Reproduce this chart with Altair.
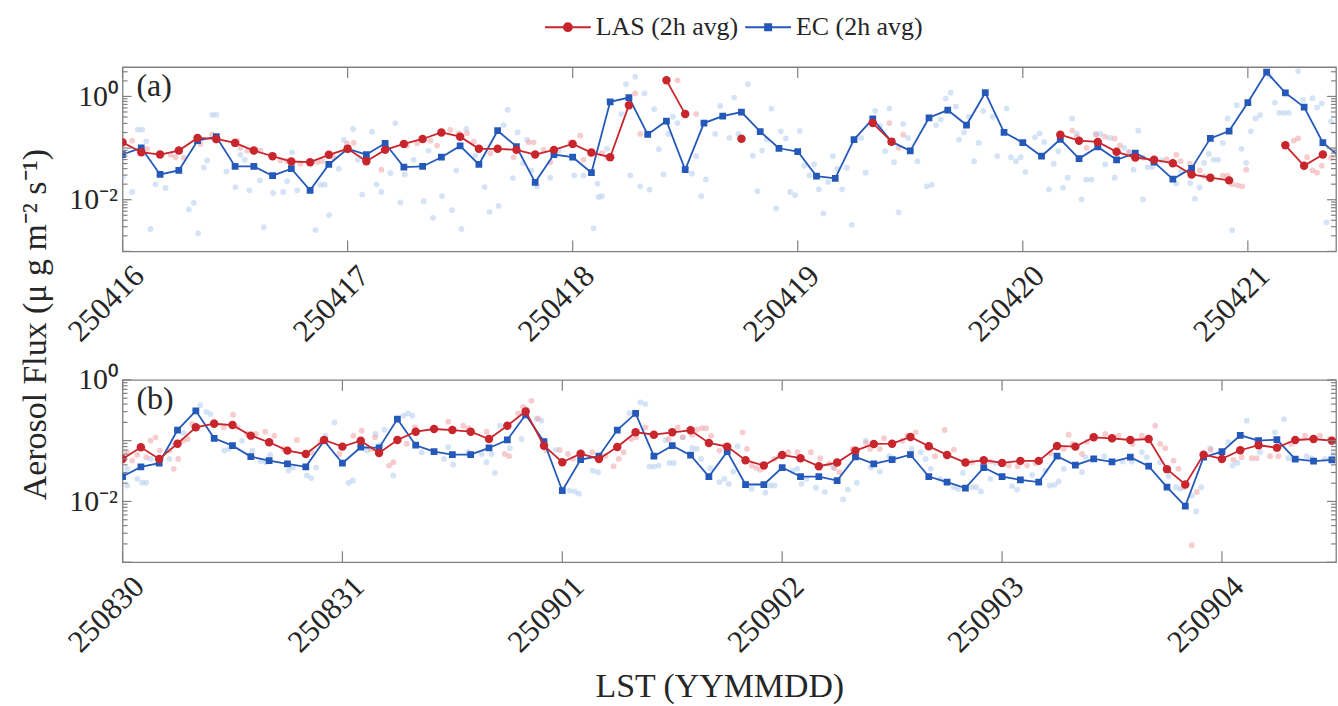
import altair as alt
import pandas as pd

FONT = "Liberation Serif"
INK = "#262626"
FRAME = "#808080"
RED = "#c8252c"
BLUE = "#2459b9"
PALE_RED = "#ee9aa0"
PALE_BLUE = "#a9c8ee"

SERIES = ["LAS (2h avg)", "EC (2h avg)"]
DAYS_A = ["250416", "250417", "250418", "250419", "250420", "250421"]
DAYS_B = ["250830", "250831", "250901", "250902", "250903", "250904"]

# 2-hourly averages (µg m-2 s-1), one value every 2 h from 00 LST of the first day; None = no data
LAS_A = [0.129, 0.083, 0.075, 0.0895, 0.157, 0.150, 0.126, 0.0895, 0.0695, 0.055,
         0.0533, 0.074, 0.0966, 0.0557, 0.0923, 0.1205, 0.150, 0.201, 0.166, 0.0966,
         0.0966, 0.0923, 0.075, 0.0923, 0.1205, 0.0819, 0.0665, 0.677, None, 2.05,
         0.455, None, None, 0.152, None, None, None, None, None, None,
         0.305, 0.133, None, None, None, None, None, None, None, None,
         0.182, 0.139, 0.1316, 0.0845, 0.0657, 0.0593, 0.051, 0.0309, 0.0267, 0.0237,
         None, None, 0.113, 0.0455, 0.075]
EC_A = [0.075, 0.101, 0.0309, 0.0369, 0.139, 0.166, 0.0441, 0.0441, 0.0292, 0.0398,
        0.0152, 0.0482, 0.0966, 0.075, 0.1237, 0.0428, 0.0441, 0.0665, 0.110, 0.0482,
        0.217, 0.107, 0.0217, 0.075, 0.0665, 0.0334, 0.784, 0.948, 0.184, 0.334,
        0.0381, 0.305, 0.416, 0.497, 0.208, 0.0991, 0.0857, 0.0287, 0.0259, 0.146,
        0.369, 0.133, 0.0883, 0.386, 0.543, 0.279, 1.18, 0.201, 0.1275, 0.0695,
        0.1476, 0.0628, 0.1054, 0.0593, 0.0794, 0.0533, 0.0251, 0.0404, 0.154, 0.214,
        0.760, 2.96, 1.17, 0.620, 0.1275, 0.063]
LAS_B = [0.0501, 0.078, 0.0501, 0.0893, 0.166, 0.190, 0.181, 0.121, 0.0942, 0.0686,
         0.0605, 0.1026, 0.0798, 0.100, 0.0628, 0.1026, 0.1405, 0.1555, 0.1497, 0.1405,
         0.1066, 0.176, 0.303, 0.0828, 0.0442, 0.0612, 0.0501, 0.0788, 0.1374, 0.1254,
         0.1374, 0.148, 0.0917, 0.0798, 0.0477, 0.0389, 0.0583, 0.0514, 0.038, 0.0436,
         0.0686, 0.0883, 0.0893, 0.115, 0.081, 0.0583, 0.0436, 0.0477, 0.0431, 0.0465,
         0.0465, 0.0818, 0.0798, 0.1137, 0.1095, 0.1026, 0.1066, 0.034, 0.019, 0.0589,
         0.0501, 0.0696, 0.0841, 0.0768, 0.1026, 0.1066, 0.100]
EC_B = [0.0257, 0.0371, 0.0426, 0.1497, 0.310, 0.1095, 0.0828, 0.0547, 0.047, 0.0415,
        0.0371, 0.100, 0.0426, 0.078, 0.0759, 0.227, 0.0841, 0.066, 0.0589, 0.0589,
        0.0759, 0.1026, 0.267, 0.0964, 0.015, 0.0489, 0.0555, 0.1497, 0.281, 0.0555,
        0.0828, 0.0577, 0.0257, 0.066, 0.019, 0.019, 0.0361, 0.0257, 0.0257, 0.0221,
        0.054, 0.0415, 0.0489, 0.0589, 0.0257, 0.0208, 0.0166, 0.0361, 0.0257, 0.0227,
        0.0208, 0.0555, 0.0395, 0.0501, 0.0448, 0.0535, 0.038, 0.0172, 0.0084, 0.0535,
        0.066, 0.1227, 0.100, 0.1038, 0.0495, 0.0459, 0.0483]

# individual samples: (hours since 00 LST of the first day, flux)
RAW_LAS_A = [
    (1.03, 0.139), (2.63, 0.0966), (5.12, 0.074), (5.65, 0.0665), (6.53, 0.0648), (8.31, 0.1205),
    (9.56, 0.182), (9.91, 0.139), (12.22, 0.139), (12.58, 0.101), (13.29, 0.0895), (14.71, 0.0895),
    (15.77, 0.074), (16.84, 0.0575), (17.55, 0.0557), (18.97, 0.0497), (20.75, 0.0533), (21.28, 0.0557),
    (22.52, 0.0665), (23.94, 0.1237), (24.65, 0.126), (27.6, 0.0381), (30.34, 0.1117), (31.41, 0.1237),
    (32.82, 0.139), (33.54, 0.1117), (34.95, 0.224), (35.84, 0.193), (36.73, 0.193), (37.44, 0.133),
    (39.22, 0.0794), (41.7, 0.0665), (43.3, 0.129), (43.83, 0.129), (44.9, 0.0923), (45.61, 0.0533),
    (47.74, 0.129), (48.81, 0.174), (49.87, 0.0773), (49.16, 0.0593), (51.12, 0.0794), (51.65, 0.0665),
    (54.67, 1.15), (55.2, 0.1875), (59.18, 2.05), (61.17, 0.455), (81.77, 0.305), (83.26, 0.182),
    (82.77, 0.101), (101.27, 0.217), (101.77, 0.166), (102.81, 0.101), (103.8, 0.182), (104.79, 0.166),
    (105.79, 0.154), (106.36, 0.113), (107.35, 0.083), (108.84, 0.0648), (109.84, 0.0557), (111.33, 0.0608),
    (112.36, 0.074), (112.82, 0.0557), (113.82, 0.0497), (114.88, 0.0369), (115.34, 0.0283), (115.84, 0.0274),
    (117.33, 0.0291), (117.83, 0.0291), (118.33, 0.0199), (118.9, 0.019), (119.39, 0.0182), (119.82, 0.0381),
    (124.9, 0.139), (125.36, 0.154), (126.32, 0.0665), (126.89, 0.0369), (127.38, 0.0334), (127.88, 0.0455),
    (128.88, 0.0648),
]
RAW_EC_A = [
    (0.0, 0.0274), (1.03, 0.0141), (1.63, 0.227), (2.1, 0.227), (2.52, 0.135), (2.98, 0.00271),
    (3.52, 0.0199), (4.58, 0.0169), (7.07, 0.00648), (7.6, 0.0087), (8.06, 0.00224), (8.67, 0.0416),
    (9.02, 0.0575), (9.56, 0.441), (10.02, 0.441), (11.08, 0.0353), (12.04, 0.0176), (12.58, 0.074),
    (13.04, 0.0593), (13.53, 0.0152), (14.64, 0.0237), (15.06, 0.00292), (16.06, 0.0135), (17.12, 0.0141),
    (17.55, 0.023), (18.08, 0.083), (18.62, 0.0152), (20.57, 0.00259), (21.1, 0.0196), (21.56, 0.0196),
    (22.03, 0.00504), (23.05, 0.0398), (23.59, 0.144), (24.59, 0.234), (25.08, 0.0593), (25.55, 0.0126),
    (26.61, 0.208), (27.07, 0.0199), (27.6, 0.0141), (28.56, 0.0328), (29.09, 0.305), (29.63, 0.00883),
    (30.09, 0.0309), (31.04, 0.0593), (32.11, 0.00936), (32.64, 0.0895), (33.11, 0.00447), (34.07, 0.0117),
    (35.14, 0.00628), (35.59, 0.0369), (36.13, 0.00271), (36.66, 0.234), (37.62, 0.0717), (38.61, 0.0176),
    (39.14, 0.00582), (40.1, 0.0076), (40.63, 0.279), (41.06, 0.55), (41.63, 0.0263), (42.13, 0.201),
    (42.7, 0.051), (43.13, 0.146), (43.59, 0.0369), (44.19, 0.0182), (45.61, 0.0267), (46.5, 0.0895),
    (48.17, 0.0296), (49.16, 0.0296), (50.23, 0.00279), (50.76, 0.0113), (50.66, 0.0205), (51.12, 0.0117),
    (51.65, 0.0966), (53.18, 0.455), (53.68, 1.72), (54.67, 2.4), (54.14, 0.0296), (55.2, 0.0182),
    (55.66, 1.15), (56.2, 0.0157), (56.7, 0.567), (57.2, 0.0948), (57.69, 0.0309), (58.22, 0.1875),
    (58.69, 0.404), (59.18, 0.305), (60.71, 0.0319), (61.17, 0.0695), (61.7, 0.0117), (62.2, 0.0248),
    (63.2, 0.1875), (63.73, 0.656), (64.72, 0.157), (65.22, 0.948), (65.68, 0.1875), (66.68, 1.72),
    (67.21, 0.0717), (67.7, 0.0146), (68.2, 0.0895), (68.7, 0.146), (69.2, 0.582), (69.7, 0.00677),
    (70.2, 0.2105), (70.73, 0.154), (71.19, 0.0141), (71.72, 0.0122), (72.22, 0.214), (72.71, 0.0455),
    (73.25, 0.0296), (73.75, 0.0482), (74.25, 0.0159), (74.74, 0.00542), (75.24, 0.022), (75.74, 0.0695),
    (76.23, 0.0398), (76.73, 0.0159), (77.23, 0.0416), (77.76, 0.00327), (78.76, 0.157), (79.25, 0.0334),
    (80.25, 0.526), (80.78, 0.267), (81.31, 0.0867), (81.77, 0.582), (82.27, 0.0533), (82.77, 0.00568),
    (83.26, 0.292), (83.76, 0.157), (84.76, 0.0557), (85.76, 0.0182), (86.29, 0.0196), (86.75, 0.279),
    (87.25, 0.358), (87.78, 0.908), (88.31, 1.18), (88.85, 0.637), (89.2, 0.146), (89.73, 0.201),
    (90.27, 0.404), (90.8, 0.0557), (91.3, 0.126), (91.79, 0.526), (92.79, 0.404), (93.28, 0.0695),
    (94.28, 0.582), (94.74, 0.0665), (95.27, 0.0557), (95.77, 0.0665), (96.27, 0.0343), (97.3, 0.1614),
    (97.8, 0.193), (98.29, 0.1316), (98.79, 0.0159), (99.29, 0.0497), (99.78, 0.0867), (100.28, 0.0172),
    (100.78, 0.0267), (101.27, 0.374), (101.77, 0.193), (102.27, 0.0102), (102.77, 0.0245), (103.3, 0.0245),
    (103.8, 0.1875), (104.3, 0.1875), (104.79, 0.0482), (105.29, 0.157), (105.79, 0.0267), (106.81, 0.101),
    (107.31, 0.083), (107.81, 0.0381), (108.31, 0.217), (108.81, 0.0101), (109.31, 0.0428), (109.8, 0.0428),
    (110.8, 0.0575), (112.36, 0.0205), (112.86, 0.0353), (113.85, 0.021), (114.35, 0.0105), (114.85, 0.0174),
    (115.34, 0.0519), (115.84, 0.0773), (116.34, 0.0593), (116.83, 0.0593), (117.33, 0.126), (117.83, 0.374),
    (118.33, 0.00259), (118.82, 0.677), (119.32, 0.0966), (119.82, 0.0519), (120.32, 0.2105), (120.82, 0.374),
    (121.31, 0.435), (122.34, 2.48), (122.88, 0.76), (123.37, 0.482), (123.87, 0.482), (124.37, 0.482),
    (125.36, 3.09), (125.89, 0.857), (126.89, 0.923), (127.38, 0.609), (127.88, 0.727), (128.38, 0.00365),
    (128.88, 0.328), (129.37, 0.0895),
]
RAW_LAS_B = [
    (0.51, 0.0645), (1.06, 0.047), (1.6, 0.0583), (2.58, 0.0535), (3.05, 0.100), (3.6, 0.1137),
    (4.06, 0.0686), (5.12, 0.0686), (5.59, 0.0344), (6.07, 0.0501), (6.61, 0.100), (7.11, 0.1066),
    (7.59, 0.188), (9.95, 0.208), (11.04, 0.166), (12.06, 0.267), (12.56, 0.166), (13.58, 0.1288),
    (14.57, 0.1288), (15.58, 0.1405), (16.56, 0.121), (17.57, 0.0731), (19.03, 0.1026), (20.66, 0.0645),
    (21.57, 0.0942), (23.67, 0.0604), (25.2, 0.121), (26.11, 0.146), (27.09, 0.0731), (27.56, 0.1137),
    (29.09, 0.0389), (29.56, 0.0442), (31.02, 0.0893), (31.92, 0.166), (35.55, 0.205), (37.18, 0.176),
    (37.73, 0.16), (39.73, 0.1405), (41.72, 0.0604), (42.2, 0.0555), (43.18, 0.281), (43.72, 0.361),
    (44.63, 0.453), (45.35, 0.233), (46.27, 0.0686), (47.72, 0.0704), (49.17, 0.0501), (50.25, 0.0604),
    (51.28, 0.0645), (48.62, 0.0604), (52.69, 0.0555), (53.6, 0.038), (54.17, 0.0501), (54.69, 0.0645),
    (55.52, 0.1066), (56.07, 0.1137), (57.08, 0.166), (59.62, 0.1066), (60.6, 0.166), (61.15, 0.1137),
    (62.17, 0.1254), (62.67, 0.1514), (63.22, 0.16), (63.7, 0.16), (64.24, 0.121), (65.15, 0.0686),
    (65.69, 0.0828), (67.68, 0.1374), (68.16, 0.0731), (68.66, 0.0389), (69.14, 0.0357), (69.6, 0.0331),
    (71.14, 0.0501), (71.68, 0.0555), (72.66, 0.0645), (73.67, 0.0645), (75.13, 0.0645), (76.15, 0.0514),
    (77.13, 0.0417), (77.67, 0.0353), (78.22, 0.0303), (79.67, 0.0731), (81.13, 0.0917), (81.6, 0.0731),
    (82.65, 0.0731), (83.12, 0.1095), (85.12, 0.100), (85.66, 0.121), (86.58, 0.1374), (88.68, 0.0555),
    (89.73, 0.1497), (90.75, 0.0711), (92.74, 0.0442), (94.74, 0.0453), (96.74, 0.0389), (97.72, 0.038),
    (98.73, 0.0389), (99.65, 0.0426), (101.28, 0.0621), (102.73, 0.0731), (103.27, 0.1254), (103.71, 0.0883),
    (104.72, 0.0604), (105.27, 0.0964), (107.27, 0.1288), (108.72, 0.121), (110.25, 0.0883), (111.26, 0.121),
    (112.72, 0.176), (113.26, 0.0883), (113.81, 0.075), (114.72, 0.047), (115.26, 0.0344), (115.81, 0.0172),
    (116.71, 0.0019), (117.26, 0.0143), (118.78, 0.0704), (121.25, 0.0484), (122.16, 0.0535), (123.25, 0.0514),
    (123.79, 0.0514), (125.25, 0.0555), (126.16, 0.0555), (127.6, 0.0883), (129.06, 0.121), (130.7, 0.121),
    (131.78, 0.1066),
]
RAW_EC_B = [
    (0.51, 0.0344), (0.51, 0.0183), (1.6, 0.0236), (2.15, 0.0203), (2.58, 0.0203), (3.05, 0.0501),
    (5.12, 0.0501), (5.59, 0.0828), (6.68, 0.1337), (8.5, 0.385), (9.15, 0.2988), (9.59, 0.274),
    (11.11, 0.0686), (11.62, 0.0731), (13.04, 0.100), (14.13, 0.0686), (15.03, 0.0465), (15.61, 0.0442),
    (16.12, 0.0583), (18.12, 0.0322), (18.6, 0.0361), (20.12, 0.0267), (20.59, 0.0242), (21.13, 0.0361),
    (22.15, 0.121), (23.13, 0.2), (24.66, 0.0203), (25.13, 0.0221), (26.66, 0.0686), (27.6, 0.1288),
    (28.11, 0.0851), (28.58, 0.1514), (29.56, 0.0267), (30.65, 0.257), (31.16, 0.281), (31.63, 0.257),
    (32.65, 0.0645), (35.08, 0.0501), (35.55, 0.078), (36.09, 0.0404), (37.73, 0.0645), (39.19, 0.0604),
    (39.73, 0.0442), (40.28, 0.0604), (40.64, 0.0295), (41.18, 0.176), (42.27, 0.075), (43.55, 0.1066),
    (44.09, 0.331), (45.18, 0.227), (45.72, 0.213), (47.28, 0.0704), (48.8, 0.0151), (49.35, 0.0146),
    (49.82, 0.0134), (51.34, 0.0322), (51.89, 0.0303), (55.34, 0.284), (56.54, 0.426), (57.08, 0.4),
    (57.52, 0.0375), (57.99, 0.0375), (58.5, 0.0389), (59.7, 0.0431), (60.17, 0.0431), (59.26, 0.1026),
    (61.15, 0.1137), (62.17, 0.0759), (62.67, 0.0731), (63.15, 0.0501), (64.16, 0.0353), (65.15, 0.0208),
    (65.69, 0.0236), (66.16, 0.0195), (66.67, 0.031), (67.14, 0.0812), (68.16, 0.0195), (68.66, 0.0161),
    (70.16, 0.0139), (70.67, 0.0183), (71.14, 0.0183), (73.13, 0.0322), (73.64, 0.0344), (74.11, 0.0195),
    (74.65, 0.0236), (75.68, 0.0168), (76.66, 0.0143), (77.67, 0.0367), (78.65, 0.0108), (79.17, 0.0157),
    (80.15, 0.0203), (81.13, 0.100), (81.67, 0.0367), (82.65, 0.031), (83.67, 0.0555), (84.13, 0.0514),
    (86.14, 0.0731), (87.12, 0.0645), (87.66, 0.0501), (88.21, 0.0344), (89.22, 0.0236), (89.73, 0.0213),
    (90.75, 0.0172), (91.22, 0.0161), (91.73, 0.0295), (92.74, 0.0172), (93.18, 0.0172), (93.69, 0.0146),
    (94.74, 0.0236), (95.29, 0.0431), (97.1, 0.0179), (97.64, 0.0157), (99.28, 0.0274), (100.74, 0.0322),
    (101.2, 0.0183), (101.72, 0.0188), (102.18, 0.0213), (102.73, 0.0344), (104.72, 0.0303), (105.1, 0.0535),
    (107.16, 0.0555), (109.16, 0.0453), (110.17, 0.0453), (111.26, 0.0645), (111.81, 0.0535), (113.26, 0.0442),
    (114.17, 0.0261), (114.97, 0.0172), (115.44, 0.0161), (116.71, 0.0125), (117.19, 0.00686), (117.73, 0.0172),
    (118.71, 0.075), (120.7, 0.0942), (121.18, 0.0389), (121.69, 0.0431), (122.71, 0.213), (123.71, 0.1038),
    (124.15, 0.0645), (125.79, 0.1374), (126.22, 0.078), (126.77, 0.227), (127.24, 0.0514), (127.78, 0.0501),
    (129.24, 0.0555), (129.78, 0.0514), (131.24, 0.0501), (132.15, 0.0604),
]

# legend glyphs: a line segment with the series marker in the middle
GLYPH_LAS = "M-1,0L1,0M0.17,0A0.17,0.17,0,1,1,-0.17,0A0.17,0.17,0,1,1,0.17,0Z"
GLYPH_EC = "M-1,0L1,0M-0.13,-0.13L0.13,-0.13L0.13,0.13L-0.13,0.13Z"

PLOT_W = 1218


def avg_frame(values):
    rows, seg, run = [], 0, False
    for k, v in enumerate(values):
        if v is None:
            run = False
            continue
        if not run:
            seg += 1
            run = True
        rows.append({"hour": 2 * k, "flux": v, "seg": seg})
    return pd.DataFrame(rows)


def raw_frame(pairs):
    return pd.DataFrame(pairs, columns=["hour", "flux"])


def log_ticks(top):
    major, minor = [], []
    for e in range(-3, 1):
        for m in range(1, 10):
            v = m * 10.0 ** e
            if v > top:
                break
            (major if m == 1 else minor).append(v)
    return major, minor


def panel(tag, las, ec, raw_las, raw_ec, days, x_max, y_max, height,
          x_title=None, y_title=None, legend=False):
    xs = alt.Scale(domain=[0, x_max], nice=False, zero=False)
    ys = alt.Scale(type="log", domain=[0.001, y_max], nice=False)
    names = ",".join(f"'{d}'" for d in days)

    text_style = dict(labelFont=FONT, labelColor=INK, titleFont=FONT, titleColor=INK,
                      titleFontWeight="normal")
    x_axis_args = dict(
        values=[24 * i for i in range(len(days))],
        labelExpr=f"[{names}][round(datum.value / 24)]",
        labelAngle=315, labelAlign="right", labelBaseline="top",
        labelFontSize=31, labelPadding=9, labelOffset=6,
        labelOverlap=False, labelFlush=False,
        ticks=False, domain=False, grid=False, **text_style,
    )
    if x_title:
        x_axis_args.update(titleFontSize=34, titleX=599, titleY=125,
                           titleAlign="center", titleBaseline="middle")
    y_axis_args = dict(
        values=[0.01, 1],
        labelExpr="datum.value > 0.5 ? '10⁰' : '10⁻²'",
        labelFontSize=30, labelPadding=5, labelFlush=False,
        ticks=False, domain=False, grid=False, **text_style,
    )
    if y_title:
        y_axis_args.update(titleFontSize=34, titleAngle=270, titleX=-87, titleY=258,
                           titleAlign="center", titleBaseline="middle")

    # every layer carries the same axis definition so the shared axes merge cleanly
    X = alt.X("hour:Q", scale=xs, axis=alt.Axis(**x_axis_args), title=x_title)
    Y = alt.Y("flux:Q", scale=ys, axis=alt.Axis(**y_axis_args), title=y_title)

    raw_ec_l = alt.Chart(raw_frame(raw_ec)).mark_circle(
        size=34, color=PALE_BLUE, opacity=0.5, clip=True).encode(x=X, y=Y)
    raw_las_l = alt.Chart(raw_frame(raw_las)).mark_circle(
        size=34, color=PALE_RED, opacity=0.5, clip=True).encode(x=X, y=Y)

    ec_df, las_df = avg_frame(ec), avg_frame(las)
    ec_line = alt.Chart(ec_df).mark_line(color=BLUE, strokeWidth=1.8, clip=True).encode(
        x=X, y=Y, detail="seg:N")
    ec_pts = alt.Chart(ec_df).mark_point(shape="square", filled=True, size=46, color=BLUE,
                                         opacity=1, clip=True).encode(x=X, y=Y)
    las_line = alt.Chart(las_df).mark_line(color=RED, strokeWidth=1.8, clip=True).encode(
        x=X, y=Y, detail="seg:N")
    las_pts = alt.Chart(las_df).mark_circle(size=72, color=RED, opacity=1, clip=True).encode(
        x=X, y=Y)

    # inward ticks on the frame
    days_df = pd.DataFrame({"hour": [24 * i for i in range(len(days))]})
    tick_style = dict(color=FRAME, strokeWidth=1.2)
    x_bot = alt.Chart(days_df).mark_rule(**tick_style).encode(
        x=X, y=alt.value(height - 11), y2=alt.value(height))
    x_top = alt.Chart(days_df).mark_rule(**tick_style).encode(
        x=X, y=alt.value(0), y2=alt.value(11))
    major, minor = log_ticks(y_max)
    maj_df, min_df = pd.DataFrame({"flux": major}), pd.DataFrame({"flux": minor})
    y_ticks = [
        alt.Chart(maj_df).mark_rule(**tick_style).encode(y=Y, x=alt.value(0), x2=alt.value(9)),
        alt.Chart(min_df).mark_rule(**tick_style).encode(y=Y, x=alt.value(0), x2=alt.value(5)),
        alt.Chart(maj_df).mark_rule(**tick_style).encode(
            y=Y, x=alt.value(PLOT_W - 9), x2=alt.value(PLOT_W)),
        alt.Chart(min_df).mark_rule(**tick_style).encode(
            y=Y, x=alt.value(PLOT_W - 5), x2=alt.value(PLOT_W)),
    ]

    tag_l = alt.Chart(pd.DataFrame({"tag": [tag]})).mark_text(
        font=FONT, fontSize=32, color=INK, align="left", baseline="middle").encode(
        text="tag:N", x=alt.value(14), y=alt.value(19))

    layers = [raw_ec_l, raw_las_l, ec_line, ec_pts, las_line, las_pts, x_bot, x_top, *y_ticks, tag_l]

    if legend:
        leg = alt.Legend(
            title=None, orient="none", legendX=423, legendY=-64, direction="horizontal",
            labelFont=FONT, labelFontSize=26, labelColor=INK, labelOffset=4,
            columnPadding=3, padding=0, symbolSize=2116, symbolStrokeWidth=2,
            symbolOpacity=1,
        )
        leg_l = alt.Chart(pd.DataFrame({"series": SERIES})).transform_filter("false").mark_point(
            filled=True, opacity=1, strokeWidth=2).encode(
            fill=alt.Fill("series:N", scale=alt.Scale(domain=SERIES, range=[RED, BLUE]), legend=leg),
            stroke=alt.Stroke("series:N", scale=alt.Scale(domain=SERIES, range=[RED, BLUE]), legend=leg),
            shape=alt.Shape("series:N", scale=alt.Scale(domain=SERIES, range=[GLYPH_LAS, GLYPH_EC]),
                            legend=leg),
        )
        layers.append(leg_l)

    return alt.layer(*layers).properties(width=PLOT_W, height=height)


top_panel = panel("(a)", LAS_A, EC_A, RAW_LAS_A, RAW_EC_A, DAYS_A, 129.4, 3.7, 185,
                  y_title="Aerosol Flux (μ g m⁻² s⁻¹)", legend=True)
bottom_panel = panel("(b)", LAS_B, EC_B, RAW_LAS_B, RAW_EC_B, DAYS_B, 132.45, 1.0, 183,
                     x_title="LST (YYMMDD)")

chart = alt.vconcat(top_panel, bottom_panel, spacing=129, bounds="flush").properties(
    padding={"left": 18, "top": 2, "right": 0, "bottom": 0}
).configure_view(
    stroke=FRAME, strokeWidth=1.3
)

chart.save("out.html", embed_options={"renderer": "svg", "actions": False})
